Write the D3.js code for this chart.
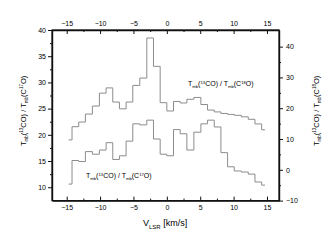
<!DOCTYPE html>
<html>
<head>
<meta charset="utf-8">
<script src="https://cdn.jsdelivr.net/npm/d3@7"></script>
<style>
body { margin: 0; background: #fff; }
text { font-family: "Liberation Sans", Arial, sans-serif; fill: #000; }
</style>
</head>
<body>
<div class="container"></div>
<script>
// channel velocities (km/s)
const velocity = [-14.7,-13.7,-12.7,-11.7,-10.6,-9.6,-8.6,-7.6,-6.6,-5.6,-4.6,-3.5,-2.5,-1.5,-0.5,
                  0.5,1.5,2.5,3.5,4.6,5.6,6.6,7.6,8.6,9.6,10.6,11.7,12.7,13.7,14.7];
// 13CO / C18O ratio (right axis)
const ratio18 = [9.7,14.0,15.5,18.1,20.7,24.9,26.6,22.0,19.8,22.0,27.4,29.8,42.8,33.6,21.8,
                 19.1,22.2,21.7,22.9,23.5,21.2,19.4,18.8,18.3,18.0,17.7,17.2,16.4,14.9,13.0];
// 13CO / C17O ratio (left axis)
const ratio17 = [10.6,15.1,14.9,16.8,16.3,17.1,18.5,15.3,16.0,18.8,22.1,21.9,22.8,19.2,16.3,
                 16.0,21.0,20.2,17.1,20.5,22.1,22.8,21.5,16.6,13.9,13.1,12.9,12.5,11.0,10.4];

const xTicks = [-15,-10,-5,0,5,10,15];
const xMinor = [-12.5,-7.5,-2.5,2.5,7.5,12.5];
const leftTicks = [10,15,20,25,30,35,40];
const leftMinor = [12.5,17.5,22.5,27.5,32.5,37.5];
const rightTicks = [-10,0,10,20,30,40];
const rightMinor = [-5,5,15,25,35];

const w = 328, h = 248;
const L = 52, R = 279, T = 30, B = 200.6;

const svg = d3.select(".container").append("svg")
  .attr("width", w).attr("height", h);
svg.append("rect").attr("width", w).attr("height", h).attr("fill", "#fff");

const xScale = d3.scaleLinear().domain([-17.2, 16.8]).range([L, R]);
const yLeft = d3.scaleLinear().domain([7.45, 40]).range([B, T]);
const yRight = d3.scaleLinear().domain([-10, 45.4]).range([B, T]);

// step curves
const line = (ys, sc) => d3.line()
  .x((d, i) => xScale(velocity[i]))
  .y(d => sc(d))
  .curve(d3.curveStep)(ys);

svg.append("path").attr("d", line(ratio18, yRight))
  .attr("fill", "none").attr("stroke", "#8c8c8c").attr("stroke-width", 1);
svg.append("path").attr("d", line(ratio17, yLeft))
  .attr("fill", "none").attr("stroke", "#8c8c8c").attr("stroke-width", 1);

// axes
function styleAxis(g) {
  g.selectAll("path").attr("stroke", "#111").attr("stroke-width", 1.4);
  g.selectAll("line").attr("stroke", "#111").attr("stroke-width", 1);
  g.selectAll("text").style("font-size", "7px").style("font-family", "Liberation Sans, Arial, sans-serif");
}
function minorAxis(axisFn, scale, vals, size, tr) {
  svg.append("g").attr("transform", tr)
    .call(axisFn(scale).tickValues(vals).tickSizeInner(size).tickSizeOuter(0).tickFormat(""))
    .call(g => { g.select("path").remove(); g.selectAll("line").attr("stroke", "#111"); });
}

svg.append("g").attr("transform", `translate(0,${B})`)
  .call(d3.axisBottom(xScale).tickValues(xTicks).tickSizeInner(-4).tickSizeOuter(0).tickPadding(4))
  .call(styleAxis);
minorAxis(d3.axisBottom, xScale, xMinor, -2, `translate(0,${B})`);

svg.append("g").attr("transform", `translate(0,${T})`)
  .call(d3.axisTop(xScale).tickValues(xTicks).tickSizeInner(-4).tickSizeOuter(0).tickPadding(4))
  .call(styleAxis);
minorAxis(d3.axisTop, xScale, xMinor, -2, `translate(0,${T})`);

svg.append("g").attr("transform", `translate(${L},0)`)
  .call(d3.axisLeft(yLeft).tickValues(leftTicks).tickSizeInner(4).tickSizeOuter(0).tickPadding(2))
  .call(styleAxis);
minorAxis(d3.axisLeft, yLeft, leftMinor, 2, `translate(${L},0)`);

svg.append("g").attr("transform", `translate(${R},0)`)
  .call(d3.axisRight(yRight).tickValues(rightTicks).tickSizeInner(4).tickSizeOuter(0).tickPadding(3))
  .call(styleAxis);
minorAxis(d3.axisRight, yRight, rightMinor, 2, `translate(${R},0)`);

svg.append("rect").attr("x", L).attr("y", T).attr("width", R - L).attr("height", B - T)
  .attr("fill", "none").attr("stroke", "#111").attr("stroke-width", 1.2);

// ratio label built from tspans: T_mb(^aCO) / T_mb(C^bO)
function ratioLabel(g, a, b, size) {
  const t = g.append("text").style("font-size", size + "px");
  const sub = size * 0.6;
  t.append("tspan").text("T");
  t.append("tspan").attr("dy", size * 0.3).style("font-size", sub + "px").text("mb");
  t.append("tspan").attr("dy", -size * 0.3).text("(");
  t.append("tspan").attr("dy", -size * 0.35).style("font-size", sub + "px").text(a);
  t.append("tspan").attr("dy", size * 0.35).text("CO) / T");
  t.append("tspan").attr("dy", size * 0.3).style("font-size", sub + "px").text("mb");
  t.append("tspan").attr("dy", -size * 0.3).text("(C");
  t.append("tspan").attr("dy", -size * 0.35).style("font-size", sub + "px").text(b);
  t.append("tspan").attr("dy", size * 0.35).text("O)");
  return t;
}

ratioLabel(svg.append("g").attr("transform", "translate(188,86)"), "13", "18", 7);
ratioLabel(svg.append("g").attr("transform", "translate(86,178)"), "13", "17", 7);

// y-axis titles
ratioLabel(svg.append("g").attr("transform", "translate(26,146) rotate(-90)"), "13", "17", 7.5);
ratioLabel(svg.append("g").attr("transform", "translate(319,146) rotate(-90)"), "13", "18", 7.5);

// x title
const xt = svg.append("text").attr("x", 143).attr("y", 226).style("font-size", "9px");
xt.append("tspan").text("V");
xt.append("tspan").attr("dy", 2.5).style("font-size", "6px").text("LSR");
xt.append("tspan").attr("dy", -2.5).text(" [km/s]");
</script>
</body>
</html>
